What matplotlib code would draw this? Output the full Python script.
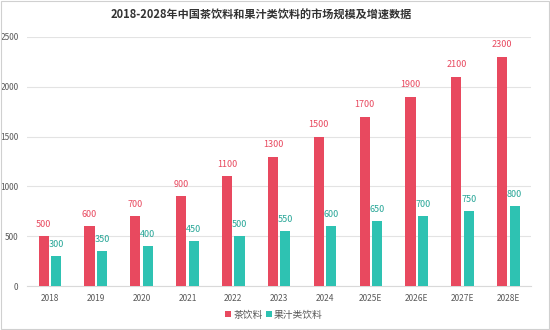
import matplotlib
matplotlib.use("Agg")
import matplotlib.pyplot as plt
import numpy as np

plt.rcParams["font.family"] = ["Noto Sans CJK SC", "DejaVu Sans"]

years = ["2018", "2019", "2020", "2021", "2022", "2023", "2024",
         "2025E", "2026E", "2027E", "2028E"]
tea = [500, 600, 700, 900, 1100, 1300, 1500, 1700, 1900, 2100, 2300]
juice = [300, 350, 400, 450, 500, 550, 600, 650, 700, 750, 800]

RED = "#E8495F"
TEAL = "#2EC2B2"
GREY = "#595959"

fig = plt.figure(figsize=(5.5, 3.3), dpi=100)
ax = fig.add_axes([0.049, 0.133, 0.917, 0.755])

x = np.arange(len(years))
w = 0.22
ax.bar(x - 0.135, tea, w, color=RED, label="茶饮料", zorder=3)
ax.bar(x + 0.135, juice, w, color=TEAL, label="果汁类饮料", zorder=3)

# value labels above each bar
for xi, v in zip(x, tea):
    ax.text(xi - 0.135, v + 75, f"{v}", ha="center", va="bottom",
            fontsize=6.5, color=RED)
for xi, v in zip(x, juice):
    ax.text(xi + 0.135, v + 75, f"{v}", ha="center", va="bottom",
            fontsize=6.5, color="#27A697")

ax.set_xlim(-0.5, len(years) - 0.5)
ax.set_ylim(0, 2500)
ax.set_yticks(range(0, 2501, 500))
ax.set_xticks(x)
ax.set_xticklabels(years)
ax.tick_params(axis="both", length=0, labelsize=6, colors=GREY, pad=6)
ax.yaxis.grid(True, color="#E3E3E3", linewidth=0.8, zorder=0)
for s in ["top", "right", "left"]:
    ax.spines[s].set_visible(False)
ax.spines["bottom"].set_color("#D9D9D9")

fig.suptitle("2018-2028年中国茶饮料和果汁类饮料的市场规模及增速数据",
             x=0.475, y=0.975, fontsize=8, fontweight="bold", color="#333333")

ax.legend(loc="center", bbox_to_anchor=(0.49, -0.115), ncol=2,
          frameon=False, fontsize=7, handlelength=0.55, handleheight=0.55,
          columnspacing=0.4, handletextpad=0.25, labelcolor=GREY)

# thin frame around the whole figure
fig.patches.append(plt.Rectangle((0.002, 0.003), 0.996, 0.994,
                                 transform=fig.transFigure, fill=False,
                                 edgecolor="#D0D0D0", linewidth=0.8))

fig.savefig("out.png", dpi=100)
